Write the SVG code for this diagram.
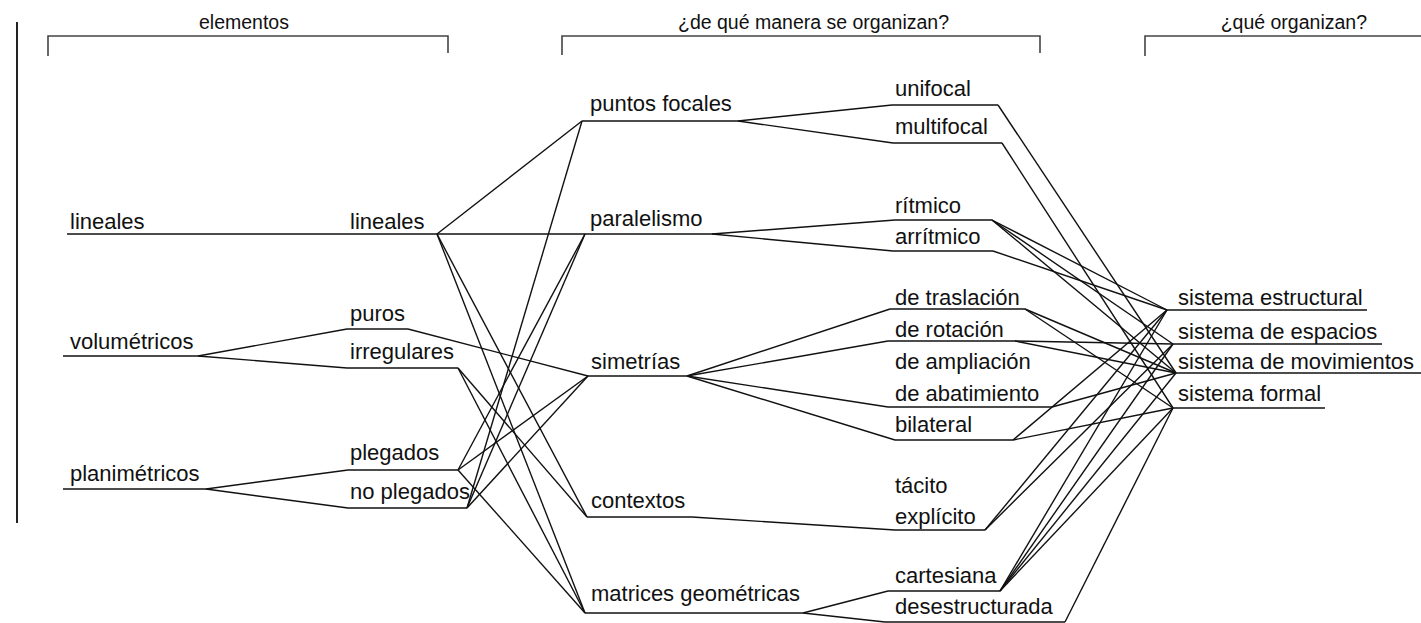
<svg xmlns="http://www.w3.org/2000/svg" width="1421" height="623" viewBox="0 0 1421 623">
<style>
text{font-family:"Liberation Sans",Arial,sans-serif;fill:#111}
.n{font-size:22px}
.h{font-size:19.5px}
.u{stroke:#111;stroke-width:1.6;fill:none}
.b{stroke:#444;stroke-width:1.6;fill:none}
#connectors line{stroke:#111;stroke-width:1.4}
</style>
<rect width="1421" height="623" fill="#fff"/>
<g id="frame">
<line x1="17" y1="22" x2="17" y2="523" stroke="#222" stroke-width="2"/>
<path class="b" d="M48,56V36H448V53"/>
<text class="h" x="199" y="29">elementos</text>
<path class="b" d="M562,55V36H1040V53"/>
<text class="h" x="678" y="29">¿de qué manera se organizan?</text>
<path class="b" d="M1145,56V36H1421"/>
<text class="h" x="1367" y="29" text-anchor="end">¿qué organizan?</text>
</g>
<g id="connectors">
<line x1="198" y1="356" x2="347" y2="329"/>
<line x1="198" y1="356" x2="347" y2="368"/>
<line x1="206" y1="489" x2="348" y2="470"/>
<line x1="206" y1="489" x2="348" y2="508"/>
<line x1="437" y1="234" x2="582" y2="121"/>
<line x1="437" y1="234" x2="585" y2="234"/>
<line x1="437" y1="234" x2="587" y2="517"/>
<line x1="437" y1="234" x2="585" y2="613"/>
<line x1="408" y1="329" x2="588" y2="376"/>
<line x1="458" y1="368" x2="587" y2="517"/>
<line x1="458" y1="368" x2="585" y2="613"/>
<line x1="458" y1="470" x2="585" y2="234"/>
<line x1="458" y1="470" x2="588" y2="376"/>
<line x1="458" y1="470" x2="585" y2="613"/>
<line x1="467" y1="508" x2="582" y2="121"/>
<line x1="467" y1="508" x2="585" y2="234"/>
<line x1="467" y1="508" x2="588" y2="376"/>
<line x1="738" y1="121" x2="892" y2="105"/>
<line x1="738" y1="121" x2="893" y2="143"/>
<line x1="712" y1="234" x2="895" y2="220"/>
<line x1="712" y1="234" x2="893" y2="251"/>
<line x1="687" y1="376" x2="890" y2="309"/>
<line x1="687" y1="376" x2="888" y2="341"/>
<line x1="687" y1="376" x2="888" y2="407"/>
<line x1="687" y1="376" x2="895" y2="440"/>
<line x1="692" y1="517" x2="895" y2="530"/>
<line x1="803" y1="613" x2="888" y2="591"/>
<line x1="803" y1="613" x2="885" y2="622"/>
<line x1="998" y1="105" x2="1176" y2="373"/>
<line x1="1002" y1="143" x2="1173" y2="408"/>
<line x1="992" y1="220" x2="1167" y2="310"/>
<line x1="992" y1="220" x2="1173" y2="344"/>
<line x1="992" y1="220" x2="1176" y2="373"/>
<line x1="993" y1="251" x2="1167" y2="310"/>
<line x1="1025" y1="309" x2="1176" y2="373"/>
<line x1="1025" y1="309" x2="1173" y2="408"/>
<line x1="1015" y1="341" x2="1173" y2="344"/>
<line x1="1015" y1="341" x2="1176" y2="373"/>
<line x1="1052" y1="407" x2="1176" y2="373"/>
<line x1="1013" y1="440" x2="1167" y2="310"/>
<line x1="1013" y1="440" x2="1173" y2="408"/>
<line x1="985" y1="530" x2="1167" y2="310"/>
<line x1="985" y1="530" x2="1173" y2="344"/>
<line x1="1000" y1="591" x2="1167" y2="310"/>
<line x1="1000" y1="591" x2="1173" y2="344"/>
<line x1="1000" y1="591" x2="1176" y2="373"/>
<line x1="1000" y1="591" x2="1173" y2="408"/>
<line x1="1065" y1="622" x2="1173" y2="408"/>
</g>
<g id="n-lineales-a"><text class="n" x="70" y="229">lineales</text><line class="u" x1="67" y1="234" x2="347" y2="234"/></g>
<g id="n-volumetricos"><text class="n" x="70" y="349">volumétricos</text><line class="u" x1="63" y1="356" x2="198" y2="356"/></g>
<g id="n-planimetricos"><text class="n" x="70" y="481">planimétricos</text><line class="u" x1="63" y1="489" x2="206" y2="489"/></g>
<g id="n-lineales-b"><text class="n" x="350" y="229">lineales</text><line class="u" x1="347" y1="234" x2="437" y2="234"/></g>
<g id="n-puros"><text class="n" x="350" y="321">puros</text><line class="u" x1="347" y1="329" x2="408" y2="329"/></g>
<g id="n-irregulares"><text class="n" x="350" y="359">irregulares</text><line class="u" x1="347" y1="368" x2="458" y2="368"/></g>
<g id="n-plegados"><text class="n" x="350" y="460">plegados</text><line class="u" x1="348" y1="470" x2="458" y2="470"/></g>
<g id="n-no-plegados"><text class="n" x="350" y="499">no plegados</text><line class="u" x1="348" y1="508" x2="467" y2="508"/></g>
<g id="n-puntos-focales"><text class="n" x="590" y="111">puntos focales</text><line class="u" x1="582" y1="121" x2="738" y2="121"/></g>
<g id="n-paralelismo"><text class="n" x="590" y="226">paralelismo</text><line class="u" x1="585" y1="234" x2="712" y2="234"/></g>
<g id="n-simetrias"><text class="n" x="591" y="369">simetrías</text><line class="u" x1="588" y1="376" x2="687" y2="376"/></g>
<g id="n-contextos"><text class="n" x="591" y="508">contextos</text><line class="u" x1="587" y1="517" x2="692" y2="517"/></g>
<g id="n-matrices"><text class="n" x="591" y="601">matrices geométricas</text><line class="u" x1="585" y1="613" x2="803" y2="613"/></g>
<g id="n-unifocal"><text class="n" x="895" y="96">unifocal</text><line class="u" x1="892" y1="105" x2="998" y2="105"/></g>
<g id="n-multifocal"><text class="n" x="895" y="134">multifocal</text><line class="u" x1="893" y1="143" x2="1002" y2="143"/></g>
<g id="n-ritmico"><text class="n" x="895" y="213">rítmico</text><line class="u" x1="895" y1="220" x2="992" y2="220"/></g>
<g id="n-arritmico"><text class="n" x="895" y="244">arrítmico</text><line class="u" x1="893" y1="251" x2="993" y2="251"/></g>
<g id="n-traslacion"><text class="n" x="895" y="305">de traslación</text><line class="u" x1="890" y1="309" x2="1025" y2="309"/></g>
<g id="n-rotacion"><text class="n" x="895" y="337">de rotación</text><line class="u" x1="888" y1="341" x2="1015" y2="341"/></g>
<g id="n-ampliacion"><text class="n" x="895" y="369">de ampliación</text></g>
<g id="n-abatimiento"><text class="n" x="895" y="401">de abatimiento</text><line class="u" x1="888" y1="407" x2="1052" y2="407"/></g>
<g id="n-bilateral"><text class="n" x="895" y="432">bilateral</text><line class="u" x1="895" y1="440" x2="1013" y2="440"/></g>
<g id="n-tacito"><text class="n" x="895" y="493">tácito</text></g>
<g id="n-explicito"><text class="n" x="895" y="524">explícito</text><line class="u" x1="895" y1="530" x2="985" y2="530"/></g>
<g id="n-cartesiana"><text class="n" x="895" y="583">cartesiana</text><line class="u" x1="888" y1="591" x2="1000" y2="591"/></g>
<g id="n-desestructurada"><text class="n" x="895" y="614">desestructurada</text><line class="u" x1="885" y1="622" x2="1065" y2="622"/></g>
<g id="n-estructural"><text class="n" x="1178" y="305">sistema estructural</text><line class="u" x1="1167" y1="310" x2="1367" y2="310"/></g>
<g id="n-espacios"><text class="n" x="1178" y="339">sistema de espacios</text><line class="u" x1="1173" y1="344" x2="1382" y2="344"/></g>
<g id="n-movimientos"><text class="n" x="1178" y="369">sistema de movimientos</text><line class="u" x1="1176" y1="373" x2="1421" y2="373"/></g>
<g id="n-formal"><text class="n" x="1178" y="401">sistema formal</text><line class="u" x1="1173" y1="408" x2="1325" y2="408"/></g>
</svg>
